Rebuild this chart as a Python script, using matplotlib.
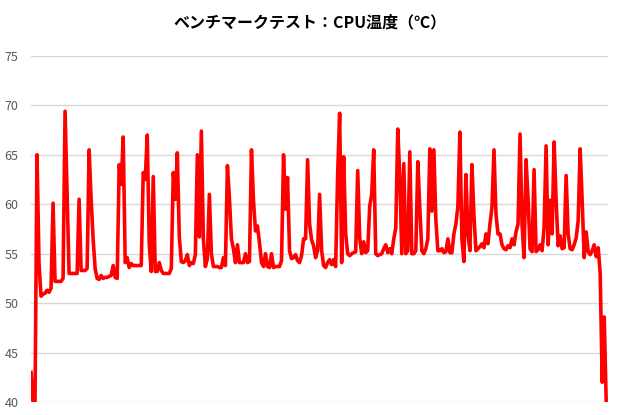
import matplotlib
matplotlib.use("Agg")
import matplotlib.pyplot as plt
import numpy as np

plt.rcParams["font.family"] = ["Noto Sans CJK JP", "DejaVu Sans"]

TITLE = "ベンチマークテスト：CPU温度（℃）"

# CPU temperature samples (roughly one per 2 px)
temps = [
    43, 40, 40, 65, 54, 50.7, 50.9, 51.0, 51.3, 51.1, 51.5, 60.1, 52.2, 52.2, 52.2, 52.2,
    52.5, 69.4, 61, 53, 53, 53, 53, 53, 60.5, 53.3, 53.3, 53.3, 53.5, 65.5, 60.5, 56.5,
    53.5, 52.5, 52.4, 52.8, 52.5, 52.6, 52.6, 52.7, 52.8, 53.8, 52.6, 52.5, 64, 62, 66.8, 54.1,
    54.6, 53.6, 54, 53.8, 53.8, 53.8, 53.8, 53.8, 63.2, 62.5, 67, 56, 53.2, 62.8, 53.2, 53.2,
    54.1, 53.3, 53, 53, 53, 53, 53.5, 63.2, 60.5, 65.2, 56.7, 54.2, 54.1, 54.3, 54.9, 53.8,
    54.1, 54, 54.9, 65, 56.7, 67.4, 56.5, 53.7, 54.5, 61, 55, 53.7, 53.7, 53.7, 53.6, 53.6,
    54.6, 53.8, 63.9, 60.6, 56.5, 55.5, 54.1, 55.9, 54.1, 54.1, 54.1, 55, 54.1, 54.2, 65.5, 60.4,
    57.3, 57.8, 56.1, 54.1, 53.7, 55, 53.7, 53.6, 55, 53.6, 53.7, 53.7, 53.7, 54.3, 65, 59.5,
    62.7, 55.3, 54.5, 54.6, 54.9, 54.3, 54.1, 54.8, 56.5, 56.5, 64.5, 58, 56.4, 55.8, 54.6, 55.3,
    61, 55.3, 53.8, 53.6, 54.1, 54.4, 53.9, 54.4, 53.7, 63, 69.2, 54.1, 64.8, 57, 55, 54.8,
    55, 55.1, 55.2, 63.4, 56.6, 55, 56.2, 55.1, 55.3, 59.8, 61, 65.5, 55, 54.8, 54.9, 55,
    55.5, 55.9, 55.1, 55.5, 55, 56.5, 57.6, 67.6, 62.8, 55, 64.1, 55, 55.3, 65.3, 55, 55,
    55.3, 64.3, 59.6, 55.3, 55, 55.5, 56.5, 65.6, 59.3, 65.5, 58.4, 55.3, 55.3, 55.5, 55.1, 55.2,
    56.5, 55.1, 55.1, 57, 58, 59.8, 67.3, 56.5, 54.2, 63, 57, 55.3, 64, 58.9, 55.3, 55.5,
    55.7, 56, 55.6, 57, 56, 58, 59.7, 65.5, 59, 57, 57, 55.9, 55.5, 55.4, 55.8, 55.6,
    56.5, 55.9, 57.2, 58, 67.1, 58, 54.6, 64.5, 60.6, 55.5, 55.2, 63.5, 55.2, 55.4, 55.9, 55.3,
    57.6, 65.9, 55.9, 60.4, 57, 66.3, 60.4, 55.8, 56.8, 55.5, 55.6, 62.9, 57, 55.5, 55.4, 55.9,
    56.6, 58.3, 65.6, 60.4, 54.6, 57.2, 55.2, 54.9, 55.3, 55.9, 54.7, 55.6, 53, 42, 48.6, 40,
    40,
]
y_ticks = [40, 45, 50, 55, 60, 65, 70, 75]

fig = plt.figure(figsize=(6.2, 4.15), dpi=100)
ax = fig.add_axes([0.05, 0.0313, 0.931, 0.834])

x = np.arange(len(temps))
ax.plot(x, temps, color="#ff0000", linewidth=2.6, solid_joinstyle="round", zorder=3)

ax.set_xlim(0, len(temps) - 1)
ax.set_ylim(40, 75)
ax.set_yticks(y_ticks)
ax.set_xticks([])
ax.grid(axis="y", color="#d9d9d9", linewidth=1)
ax.set_axisbelow(True)
for s in ax.spines.values():
    s.set_visible(False)
ax.tick_params(axis="y", length=0, pad=9, labelsize=9, labelcolor="#595959")

fig.text(0.5, 0.947, TITLE, ha="center", va="center", fontsize=11.5,
         fontweight="bold", color="#000000")

fig.savefig("out.png", dpi=100)
